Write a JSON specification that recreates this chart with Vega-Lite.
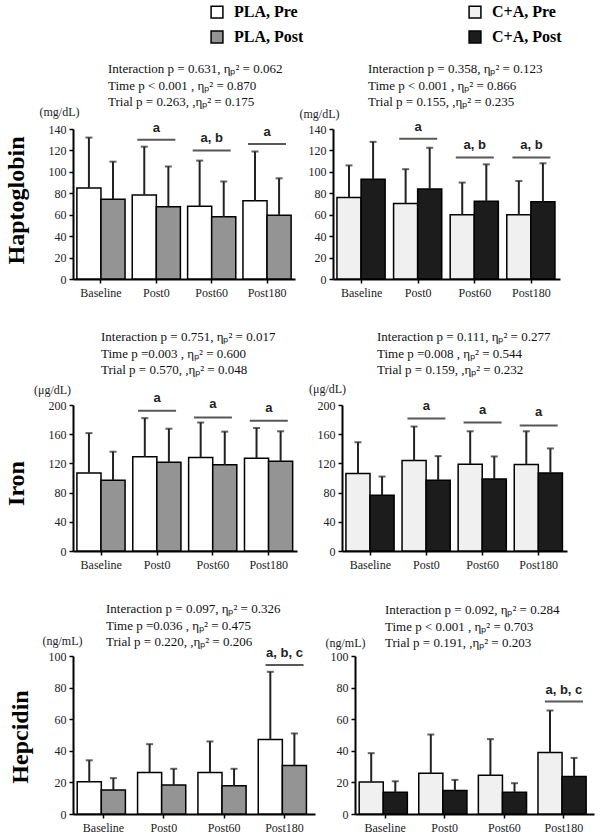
{
  "$schema": "https://vega.github.io/schema/vega-lite/v6.json",
  "padding": {"left": 5, "top": 4, "right": 5, "bottom": 5},
  "config": {
    "font": "Liberation Serif",
    "view": {"stroke": null},
    "axis": {"domainColor": "black", "domainWidth": 2, "tickColor": "black", "tickWidth": 1.5, "tickSize": 4, "labelFont": "Liberation Serif", "labelFontSize": 12, "labelColor": "#222", "grid": false, "titleFont": "Liberation Serif", "titleFontWeight": "normal", "titleFontSize": 12, "titleColor": "#222", "labelPadding": 3, "labelOverlap": false},
    "title": {"font": "Liberation Serif", "fontSize": 13, "fontWeight": "normal", "anchor": "start", "frame": "group", "lineHeight": 16.5, "color": "#111", "offset": 4}
  },
  "datasets": {
    "bars": [
      {"marker": "Haptoglobin", "trial": "PLA", "time": "Baseline", "phase": "Pre", "series": "PLA, Pre", "mean": 85, "upper": 132},
      {"marker": "Haptoglobin", "trial": "PLA", "time": "Baseline", "phase": "Post", "series": "PLA, Post", "mean": 74.5, "upper": 109.5},
      {"marker": "Haptoglobin", "trial": "PLA", "time": "Post0", "phase": "Pre", "series": "PLA, Pre", "mean": 78.5, "upper": 123.5},
      {"marker": "Haptoglobin", "trial": "PLA", "time": "Post0", "phase": "Post", "series": "PLA, Post", "mean": 67.5, "upper": 105},
      {"marker": "Haptoglobin", "trial": "PLA", "time": "Post60", "phase": "Pre", "series": "PLA, Pre", "mean": 68, "upper": 110.5},
      {"marker": "Haptoglobin", "trial": "PLA", "time": "Post60", "phase": "Post", "series": "PLA, Post", "mean": 58, "upper": 91},
      {"marker": "Haptoglobin", "trial": "PLA", "time": "Post180", "phase": "Pre", "series": "PLA, Pre", "mean": 73, "upper": 119},
      {"marker": "Haptoglobin", "trial": "PLA", "time": "Post180", "phase": "Post", "series": "PLA, Post", "mean": 59.5, "upper": 94},
      {"marker": "Haptoglobin", "trial": "C+A", "time": "Baseline", "phase": "Pre", "series": "C+A, Pre", "mean": 76, "upper": 106},
      {"marker": "Haptoglobin", "trial": "C+A", "time": "Baseline", "phase": "Post", "series": "C+A, Post", "mean": 93, "upper": 128},
      {"marker": "Haptoglobin", "trial": "C+A", "time": "Post0", "phase": "Pre", "series": "C+A, Pre", "mean": 70.5, "upper": 102.5},
      {"marker": "Haptoglobin", "trial": "C+A", "time": "Post0", "phase": "Post", "series": "C+A, Post", "mean": 84, "upper": 122.5},
      {"marker": "Haptoglobin", "trial": "C+A", "time": "Post60", "phase": "Pre", "series": "C+A, Pre", "mean": 60, "upper": 90},
      {"marker": "Haptoglobin", "trial": "C+A", "time": "Post60", "phase": "Post", "series": "C+A, Post", "mean": 72.5, "upper": 107},
      {"marker": "Haptoglobin", "trial": "C+A", "time": "Post180", "phase": "Pre", "series": "C+A, Pre", "mean": 60, "upper": 91.5},
      {"marker": "Haptoglobin", "trial": "C+A", "time": "Post180", "phase": "Post", "series": "C+A, Post", "mean": 72, "upper": 108},
      {"marker": "Iron", "trial": "PLA", "time": "Baseline", "phase": "Pre", "series": "PLA, Pre", "mean": 107, "upper": 161.5},
      {"marker": "Iron", "trial": "PLA", "time": "Baseline", "phase": "Post", "series": "PLA, Post", "mean": 97, "upper": 136},
      {"marker": "Iron", "trial": "PLA", "time": "Post0", "phase": "Pre", "series": "PLA, Pre", "mean": 129, "upper": 182},
      {"marker": "Iron", "trial": "PLA", "time": "Post0", "phase": "Post", "series": "PLA, Post", "mean": 121.5, "upper": 167.5},
      {"marker": "Iron", "trial": "PLA", "time": "Post60", "phase": "Pre", "series": "PLA, Pre", "mean": 128, "upper": 176},
      {"marker": "Iron", "trial": "PLA", "time": "Post60", "phase": "Post", "series": "PLA, Post", "mean": 118, "upper": 163.5},
      {"marker": "Iron", "trial": "PLA", "time": "Post180", "phase": "Pre", "series": "PLA, Pre", "mean": 127, "upper": 168.5},
      {"marker": "Iron", "trial": "PLA", "time": "Post180", "phase": "Post", "series": "PLA, Post", "mean": 123, "upper": 164},
      {"marker": "Iron", "trial": "C+A", "time": "Baseline", "phase": "Pre", "series": "C+A, Pre", "mean": 106, "upper": 149},
      {"marker": "Iron", "trial": "C+A", "time": "Baseline", "phase": "Post", "series": "C+A, Post", "mean": 76.5, "upper": 102},
      {"marker": "Iron", "trial": "C+A", "time": "Post0", "phase": "Pre", "series": "C+A, Pre", "mean": 124, "upper": 170.5},
      {"marker": "Iron", "trial": "C+A", "time": "Post0", "phase": "Post", "series": "C+A, Post", "mean": 97, "upper": 130},
      {"marker": "Iron", "trial": "C+A", "time": "Post60", "phase": "Pre", "series": "C+A, Pre", "mean": 119, "upper": 164},
      {"marker": "Iron", "trial": "C+A", "time": "Post60", "phase": "Post", "series": "C+A, Post", "mean": 98.5, "upper": 129.5},
      {"marker": "Iron", "trial": "C+A", "time": "Post180", "phase": "Pre", "series": "C+A, Pre", "mean": 118.5, "upper": 164},
      {"marker": "Iron", "trial": "C+A", "time": "Post180", "phase": "Post", "series": "C+A, Post", "mean": 107, "upper": 140.5},
      {"marker": "Hepcidin", "trial": "PLA", "time": "Baseline", "phase": "Pre", "series": "PLA, Pre", "mean": 20.4, "upper": 34},
      {"marker": "Hepcidin", "trial": "PLA", "time": "Baseline", "phase": "Post", "series": "PLA, Post", "mean": 15.2, "upper": 22.7},
      {"marker": "Hepcidin", "trial": "PLA", "time": "Post0", "phase": "Pre", "series": "PLA, Pre", "mean": 26.3, "upper": 44.2},
      {"marker": "Hepcidin", "trial": "PLA", "time": "Post0", "phase": "Post", "series": "PLA, Post", "mean": 18.3, "upper": 28.6},
      {"marker": "Hepcidin", "trial": "PLA", "time": "Post60", "phase": "Pre", "series": "PLA, Pre", "mean": 26.3, "upper": 45.9},
      {"marker": "Hepcidin", "trial": "PLA", "time": "Post60", "phase": "Post", "series": "PLA, Post", "mean": 17.9, "upper": 28.6},
      {"marker": "Hepcidin", "trial": "PLA", "time": "Post180", "phase": "Pre", "series": "PLA, Pre", "mean": 47.2, "upper": 90},
      {"marker": "Hepcidin", "trial": "PLA", "time": "Post180", "phase": "Post", "series": "PLA, Post", "mean": 30.7, "upper": 51},
      {"marker": "Hepcidin", "trial": "C+A", "time": "Baseline", "phase": "Pre", "series": "C+A, Pre", "mean": 20.3, "upper": 38.5},
      {"marker": "Hepcidin", "trial": "C+A", "time": "Baseline", "phase": "Post", "series": "C+A, Post", "mean": 13.7, "upper": 20.7},
      {"marker": "Hepcidin", "trial": "C+A", "time": "Post0", "phase": "Pre", "series": "C+A, Pre", "mean": 25.8, "upper": 50.3},
      {"marker": "Hepcidin", "trial": "C+A", "time": "Post0", "phase": "Post", "series": "C+A, Post", "mean": 14.8, "upper": 21.6},
      {"marker": "Hepcidin", "trial": "C+A", "time": "Post60", "phase": "Pre", "series": "C+A, Pre", "mean": 24.5, "upper": 47.4},
      {"marker": "Hepcidin", "trial": "C+A", "time": "Post60", "phase": "Post", "series": "C+A, Post", "mean": 13.7, "upper": 19.5},
      {"marker": "Hepcidin", "trial": "C+A", "time": "Post180", "phase": "Pre", "series": "C+A, Pre", "mean": 38.9, "upper": 65.5},
      {"marker": "Hepcidin", "trial": "C+A", "time": "Post180", "phase": "Post", "series": "C+A, Post", "mean": 23.7, "upper": 35.5}
    ],
    "sig": [
      {"marker": "Haptoglobin", "trial": "PLA", "time": "Post0", "line": 130, "label": "a"},
      {"marker": "Haptoglobin", "trial": "PLA", "time": "Post60", "line": 120, "label": "a, b"},
      {"marker": "Haptoglobin", "trial": "PLA", "time": "Post180", "line": 126, "label": "a"},
      {"marker": "Haptoglobin", "trial": "C+A", "time": "Post0", "line": 131, "label": "a"},
      {"marker": "Haptoglobin", "trial": "C+A", "time": "Post60", "line": 113.5, "label": "a, b"},
      {"marker": "Haptoglobin", "trial": "C+A", "time": "Post180", "line": 113.5, "label": "a, b"},
      {"marker": "Iron", "trial": "PLA", "time": "Post0", "line": 192, "label": "a"},
      {"marker": "Iron", "trial": "PLA", "time": "Post60", "line": 183, "label": "a"},
      {"marker": "Iron", "trial": "PLA", "time": "Post180", "line": 178.5, "label": "a"},
      {"marker": "Iron", "trial": "C+A", "time": "Post0", "line": 181.5, "label": "a"},
      {"marker": "Iron", "trial": "C+A", "time": "Post60", "line": 176, "label": "a"},
      {"marker": "Iron", "trial": "C+A", "time": "Post180", "line": 172, "label": "a"},
      {"marker": "Hepcidin", "trial": "PLA", "time": "Post180", "line": 94.3, "label": "a, b, c"},
      {"marker": "Hepcidin", "trial": "C+A", "time": "Post180", "line": 71.2, "label": "a, b, c"}
    ]
  },
  "spacing": 33,
  "vconcat": [
    {
      "title": {"text": "Haptoglobin", "orient": "left", "anchor": "middle", "frame": "bounds", "offset": 10, "dx": -20, "fontSize": 24, "fontWeight": "bold", "font": "Liberation Serif", "color": "black"},
      "bounds": "flush",
      "spacing": 38,
      "hconcat": [
        {
          "width": 222, "height": 150,
          "title": {"text": ["Interaction p = 0.631, ηₚ² = 0.062", "Time p < 0.001 , ηₚ² = 0.870", "Trial p = 0.263, ,ηₚ² = 0.175"], "dx": 35, "offset": -4},
          "encoding": {"x": {"field": "time", "type": "nominal", "sort": ["Baseline", "Post0", "Post60", "Post180"], "scale": {"paddingInner": 0.13, "paddingOuter": 0.07}, "axis": {"title": null, "labelAngle": 0, "bandPosition": 0.5, "labelPadding": 4}}},
          "layer": [
            {"data": {"name": "bars"}, "transform": [{"filter": "datum.marker === 'Haptoglobin' && datum.trial === 'PLA'"}],
             "mark": {"type": "bar", "stroke": "black", "strokeWidth": 1.5},
             "encoding": {
               "xOffset": {"field": "phase", "type": "nominal", "sort": ["Pre", "Post"], "scale": {"paddingInner": 0, "paddingOuter": 0}},
               "y": {"field": "mean", "type": "quantitative", "scale": {"domain": [0, 140], "nice": false}, "axis": {"values": [0, 20, 40, 60, 80, 100, 120, 140], "labelOverlap": false, "title": "(mg/dL)", "titleAngle": 0, "titleAlign": "center", "titleBaseline": "middle", "titleX": -14, "titleY": -18}},
               "fill": {"field": "series", "type": "nominal", "scale": {"domain": ["PLA, Pre", "PLA, Post", "C+A, Pre", "C+A, Post"], "range": ["#ffffff", "#949494", "#f0f0f0", "#1c1c1c"]},
                 "legend": {"orient": "none", "legendX": 136, "legendY": -125, "columns": 2, "columnPadding": 162, "rowPadding": 7, "symbolType": "square", "symbolSize": 140, "symbolStrokeColor": "black", "symbolStrokeWidth": 1.5, "labelFont": "Liberation Serif", "labelFontWeight": "bold", "labelFontSize": 16, "labelColor": "black", "labelOffset": 9, "title": null, "padding": 0}}
             }},
            {"data": {"name": "bars"}, "transform": [{"filter": "datum.marker === 'Haptoglobin' && datum.trial === 'PLA'"}],
             "mark": {"type": "rule", "strokeWidth": 2, "color": "#222"},
             "encoding": {"xOffset": {"field": "phase", "type": "nominal", "sort": ["Pre", "Post"]}, "y": {"field": "mean", "type": "quantitative", "axis": {"values": [0, 20, 40, 60, 80, 100, 120, 140], "labelOverlap": false, "title": "(mg/dL)", "titleAngle": 0, "titleAlign": "center", "titleBaseline": "middle", "titleX": -14, "titleY": -18}}, "y2": {"field": "upper"}}},
            {"data": {"name": "bars"}, "transform": [{"filter": "datum.marker === 'Haptoglobin' && datum.trial === 'PLA'"}],
             "mark": {"type": "tick", "size": 7, "thickness": 2, "color": "#222"},
             "encoding": {"xOffset": {"field": "phase", "type": "nominal", "sort": ["Pre", "Post"]}, "y": {"field": "upper", "type": "quantitative", "axis": {"values": [0, 20, 40, 60, 80, 100, 120, 140], "labelOverlap": false, "title": "(mg/dL)", "titleAngle": 0, "titleAlign": "center", "titleBaseline": "middle", "titleX": -14, "titleY": -18}}}},
            {"data": {"name": "sig"}, "transform": [{"filter": "datum.marker === 'Haptoglobin' && datum.trial === 'PLA'"}],
             "mark": {"type": "tick", "size": 38, "thickness": 2, "color": "#111"},
             "encoding": {"y": {"field": "line", "type": "quantitative", "axis": {"values": [0, 20, 40, 60, 80, 100, 120, 140], "labelOverlap": false, "title": "(mg/dL)", "titleAngle": 0, "titleAlign": "center", "titleBaseline": "middle", "titleX": -14, "titleY": -18}}}},
            {"data": {"name": "sig"}, "transform": [{"filter": "datum.marker === 'Haptoglobin' && datum.trial === 'PLA'"}],
             "mark": {"type": "text", "dy": -12, "font": "Liberation Sans", "fontWeight": "bold", "fontSize": 13, "color": "#222"},
             "encoding": {"y": {"field": "line", "type": "quantitative", "axis": {"values": [0, 20, 40, 60, 80, 100, 120, 140], "labelOverlap": false, "title": "(mg/dL)", "titleAngle": 0, "titleAlign": "center", "titleBaseline": "middle", "titleX": -14, "titleY": -18}}, "text": {"field": "label"}}}
          ]
        },
        {
          "width": 227, "height": 150,
          "title": {"text": ["Interaction p = 0.358, ηₚ² = 0.123", "Time p < 0.001 , ηₚ² = 0.866", "Trial p = 0.155, ,ηₚ² = 0.235"], "dx": 35, "offset": -2},
          "encoding": {"x": {"field": "time", "type": "nominal", "sort": ["Baseline", "Post0", "Post60", "Post180"], "scale": {"paddingInner": 0.13, "paddingOuter": 0.07}, "axis": {"title": null, "labelAngle": 0, "bandPosition": 0.5, "labelPadding": 4}}},
          "layer": [
            {"data": {"name": "bars"}, "transform": [{"filter": "datum.marker === 'Haptoglobin' && datum.trial === 'C+A'"}],
             "mark": {"type": "bar", "stroke": "black", "strokeWidth": 1.5},
             "encoding": {
               "xOffset": {"field": "phase", "type": "nominal", "sort": ["Pre", "Post"], "scale": {"paddingInner": 0, "paddingOuter": 0}},
               "y": {"field": "mean", "type": "quantitative", "scale": {"domain": [0, 140], "nice": false}, "axis": {"values": [0, 20, 40, 60, 80, 100, 120, 140], "labelOverlap": false, "title": "(mg/dL)", "titleAngle": 0, "titleAlign": "center", "titleBaseline": "middle", "titleX": -14, "titleY": -16}},
               "fill": {"field": "series", "type": "nominal", "scale": {"domain": ["PLA, Pre", "PLA, Post", "C+A, Pre", "C+A, Post"], "range": ["#ffffff", "#949494", "#f0f0f0", "#1c1c1c"]},
                 "legend": {"orient": "none", "legendX": 136, "legendY": -125, "columns": 2, "columnPadding": 162, "rowPadding": 7, "symbolType": "square", "symbolSize": 140, "symbolStrokeColor": "black", "symbolStrokeWidth": 1.5, "labelFont": "Liberation Serif", "labelFontWeight": "bold", "labelFontSize": 16, "labelColor": "black", "labelOffset": 9, "title": null, "padding": 0}}
             }},
            {"data": {"name": "bars"}, "transform": [{"filter": "datum.marker === 'Haptoglobin' && datum.trial === 'C+A'"}],
             "mark": {"type": "rule", "strokeWidth": 2, "color": "#222"},
             "encoding": {"xOffset": {"field": "phase", "type": "nominal", "sort": ["Pre", "Post"]}, "y": {"field": "mean", "type": "quantitative", "axis": {"values": [0, 20, 40, 60, 80, 100, 120, 140], "labelOverlap": false, "title": "(mg/dL)", "titleAngle": 0, "titleAlign": "center", "titleBaseline": "middle", "titleX": -14, "titleY": -16}}, "y2": {"field": "upper"}}},
            {"data": {"name": "bars"}, "transform": [{"filter": "datum.marker === 'Haptoglobin' && datum.trial === 'C+A'"}],
             "mark": {"type": "tick", "size": 7, "thickness": 2, "color": "#222"},
             "encoding": {"xOffset": {"field": "phase", "type": "nominal", "sort": ["Pre", "Post"]}, "y": {"field": "upper", "type": "quantitative", "axis": {"values": [0, 20, 40, 60, 80, 100, 120, 140], "labelOverlap": false, "title": "(mg/dL)", "titleAngle": 0, "titleAlign": "center", "titleBaseline": "middle", "titleX": -14, "titleY": -16}}}},
            {"data": {"name": "sig"}, "transform": [{"filter": "datum.marker === 'Haptoglobin' && datum.trial === 'C+A'"}],
             "mark": {"type": "tick", "size": 38, "thickness": 2, "color": "#111"},
             "encoding": {"y": {"field": "line", "type": "quantitative", "axis": {"values": [0, 20, 40, 60, 80, 100, 120, 140], "labelOverlap": false, "title": "(mg/dL)", "titleAngle": 0, "titleAlign": "center", "titleBaseline": "middle", "titleX": -14, "titleY": -16}}}},
            {"data": {"name": "sig"}, "transform": [{"filter": "datum.marker === 'Haptoglobin' && datum.trial === 'C+A'"}],
             "mark": {"type": "text", "dy": -12, "font": "Liberation Sans", "fontWeight": "bold", "fontSize": 13, "color": "#222"},
             "encoding": {"y": {"field": "line", "type": "quantitative", "axis": {"values": [0, 20, 40, 60, 80, 100, 120, 140], "labelOverlap": false, "title": "(mg/dL)", "titleAngle": 0, "titleAlign": "center", "titleBaseline": "middle", "titleX": -14, "titleY": -16}}, "text": {"field": "label"}}}
          ]
        }
      ]
    },
    {
      "title": {"text": "Iron", "orient": "left", "anchor": "middle", "frame": "bounds", "offset": 4, "dx": -33, "fontSize": 24, "fontWeight": "bold", "font": "Liberation Serif", "color": "black"},
      "bounds": "flush",
      "spacing": 45,
      "hconcat": [
        {
          "width": 224, "height": 146,
          "title": {"text": ["Interaction p = 0.751, ηₚ² = 0.017", "Time p =0.003 , ηₚ² = 0.600", "Trial p = 0.570, ,ηₚ² = 0.048"], "dx": 28, "offset": 6},
          "encoding": {"x": {"field": "time", "type": "nominal", "sort": ["Baseline", "Post0", "Post60", "Post180"], "scale": {"paddingInner": 0.13, "paddingOuter": 0.07}, "axis": {"title": null, "labelAngle": 0, "bandPosition": 0.5, "labelPadding": 4}}},
          "layer": [
            {"data": {"name": "bars"}, "transform": [{"filter": "datum.marker === 'Iron' && datum.trial === 'PLA'"}],
             "mark": {"type": "bar", "stroke": "black", "strokeWidth": 1.5},
             "encoding": {
               "xOffset": {"field": "phase", "type": "nominal", "sort": ["Pre", "Post"], "scale": {"paddingInner": 0, "paddingOuter": 0}},
               "y": {"field": "mean", "type": "quantitative", "scale": {"domain": [0, 200], "nice": false}, "axis": {"values": [0, 40, 80, 120, 160, 200], "labelOverlap": false, "title": "(μg/dL)", "titleAngle": 0, "titleAlign": "center", "titleBaseline": "middle", "titleX": -21, "titleY": -16}},
               "fill": {"field": "series", "type": "nominal", "scale": {"domain": ["PLA, Pre", "PLA, Post", "C+A, Pre", "C+A, Post"], "range": ["#ffffff", "#949494", "#f0f0f0", "#1c1c1c"]},
                 "legend": {"orient": "none", "legendX": 136, "legendY": -125, "columns": 2, "columnPadding": 162, "rowPadding": 7, "symbolType": "square", "symbolSize": 140, "symbolStrokeColor": "black", "symbolStrokeWidth": 1.5, "labelFont": "Liberation Serif", "labelFontWeight": "bold", "labelFontSize": 16, "labelColor": "black", "labelOffset": 9, "title": null, "padding": 0}}
             }},
            {"data": {"name": "bars"}, "transform": [{"filter": "datum.marker === 'Iron' && datum.trial === 'PLA'"}],
             "mark": {"type": "rule", "strokeWidth": 2, "color": "#222"},
             "encoding": {"xOffset": {"field": "phase", "type": "nominal", "sort": ["Pre", "Post"]}, "y": {"field": "mean", "type": "quantitative", "axis": {"values": [0, 40, 80, 120, 160, 200], "labelOverlap": false, "title": "(μg/dL)", "titleAngle": 0, "titleAlign": "center", "titleBaseline": "middle", "titleX": -21, "titleY": -16}}, "y2": {"field": "upper"}}},
            {"data": {"name": "bars"}, "transform": [{"filter": "datum.marker === 'Iron' && datum.trial === 'PLA'"}],
             "mark": {"type": "tick", "size": 7, "thickness": 2, "color": "#222"},
             "encoding": {"xOffset": {"field": "phase", "type": "nominal", "sort": ["Pre", "Post"]}, "y": {"field": "upper", "type": "quantitative", "axis": {"values": [0, 40, 80, 120, 160, 200], "labelOverlap": false, "title": "(μg/dL)", "titleAngle": 0, "titleAlign": "center", "titleBaseline": "middle", "titleX": -21, "titleY": -16}}}},
            {"data": {"name": "sig"}, "transform": [{"filter": "datum.marker === 'Iron' && datum.trial === 'PLA'"}],
             "mark": {"type": "tick", "size": 38, "thickness": 2, "color": "#111"},
             "encoding": {"y": {"field": "line", "type": "quantitative", "axis": {"values": [0, 40, 80, 120, 160, 200], "labelOverlap": false, "title": "(μg/dL)", "titleAngle": 0, "titleAlign": "center", "titleBaseline": "middle", "titleX": -21, "titleY": -16}}}},
            {"data": {"name": "sig"}, "transform": [{"filter": "datum.marker === 'Iron' && datum.trial === 'PLA'"}],
             "mark": {"type": "text", "dy": -13, "font": "Liberation Sans", "fontWeight": "bold", "fontSize": 13, "color": "#222"},
             "encoding": {"y": {"field": "line", "type": "quantitative", "axis": {"values": [0, 40, 80, 120, 160, 200], "labelOverlap": false, "title": "(μg/dL)", "titleAngle": 0, "titleAlign": "center", "titleBaseline": "middle", "titleX": -21, "titleY": -16}}, "text": {"field": "label"}}}
          ]
        },
        {
          "width": 225, "height": 146,
          "title": {"text": ["Interaction p = 0.111, ηₚ² = 0.277", "Time p =0.008 , ηₚ² = 0.544", "Trial p = 0.159, ,ηₚ² = 0.232"], "dx": 35, "offset": 5},
          "encoding": {"x": {"field": "time", "type": "nominal", "sort": ["Baseline", "Post0", "Post60", "Post180"], "scale": {"paddingInner": 0.13, "paddingOuter": 0.07}, "axis": {"title": null, "labelAngle": 0, "bandPosition": 0.5, "labelPadding": 4}}},
          "layer": [
            {"data": {"name": "bars"}, "transform": [{"filter": "datum.marker === 'Iron' && datum.trial === 'C+A'"}],
             "mark": {"type": "bar", "stroke": "black", "strokeWidth": 1.5},
             "encoding": {
               "xOffset": {"field": "phase", "type": "nominal", "sort": ["Pre", "Post"], "scale": {"paddingInner": 0, "paddingOuter": 0}},
               "y": {"field": "mean", "type": "quantitative", "scale": {"domain": [0, 200], "nice": false}, "axis": {"values": [0, 40, 80, 120, 160, 200], "labelOverlap": false, "title": "(μg/dL)", "titleAngle": 0, "titleAlign": "center", "titleBaseline": "middle", "titleX": -15, "titleY": -17}},
               "fill": {"field": "series", "type": "nominal", "scale": {"domain": ["PLA, Pre", "PLA, Post", "C+A, Pre", "C+A, Post"], "range": ["#ffffff", "#949494", "#f0f0f0", "#1c1c1c"]},
                 "legend": {"orient": "none", "legendX": 136, "legendY": -125, "columns": 2, "columnPadding": 162, "rowPadding": 7, "symbolType": "square", "symbolSize": 140, "symbolStrokeColor": "black", "symbolStrokeWidth": 1.5, "labelFont": "Liberation Serif", "labelFontWeight": "bold", "labelFontSize": 16, "labelColor": "black", "labelOffset": 9, "title": null, "padding": 0}}
             }},
            {"data": {"name": "bars"}, "transform": [{"filter": "datum.marker === 'Iron' && datum.trial === 'C+A'"}],
             "mark": {"type": "rule", "strokeWidth": 2, "color": "#222"},
             "encoding": {"xOffset": {"field": "phase", "type": "nominal", "sort": ["Pre", "Post"]}, "y": {"field": "mean", "type": "quantitative", "axis": {"values": [0, 40, 80, 120, 160, 200], "labelOverlap": false, "title": "(μg/dL)", "titleAngle": 0, "titleAlign": "center", "titleBaseline": "middle", "titleX": -15, "titleY": -17}}, "y2": {"field": "upper"}}},
            {"data": {"name": "bars"}, "transform": [{"filter": "datum.marker === 'Iron' && datum.trial === 'C+A'"}],
             "mark": {"type": "tick", "size": 7, "thickness": 2, "color": "#222"},
             "encoding": {"xOffset": {"field": "phase", "type": "nominal", "sort": ["Pre", "Post"]}, "y": {"field": "upper", "type": "quantitative", "axis": {"values": [0, 40, 80, 120, 160, 200], "labelOverlap": false, "title": "(μg/dL)", "titleAngle": 0, "titleAlign": "center", "titleBaseline": "middle", "titleX": -15, "titleY": -17}}}},
            {"data": {"name": "sig"}, "transform": [{"filter": "datum.marker === 'Iron' && datum.trial === 'C+A'"}],
             "mark": {"type": "tick", "size": 38, "thickness": 2, "color": "#111"},
             "encoding": {"y": {"field": "line", "type": "quantitative", "axis": {"values": [0, 40, 80, 120, 160, 200], "labelOverlap": false, "title": "(μg/dL)", "titleAngle": 0, "titleAlign": "center", "titleBaseline": "middle", "titleX": -15, "titleY": -17}}}},
            {"data": {"name": "sig"}, "transform": [{"filter": "datum.marker === 'Iron' && datum.trial === 'C+A'"}],
             "mark": {"type": "text", "dy": -13, "font": "Liberation Sans", "fontWeight": "bold", "fontSize": 13, "color": "#222"},
             "encoding": {"y": {"field": "line", "type": "quantitative", "axis": {"values": [0, 40, 80, 120, 160, 200], "labelOverlap": false, "title": "(μg/dL)", "titleAngle": 0, "titleAlign": "center", "titleBaseline": "middle", "titleX": -15, "titleY": -17}}, "text": {"field": "label"}}}
          ]
        }
      ]
    },
    {
      "title": {"text": "Hepcidin", "orient": "left", "anchor": "middle", "frame": "bounds", "offset": 9, "dx": -19, "fontSize": 24, "fontWeight": "bold", "font": "Liberation Serif", "color": "black"},
      "bounds": "flush",
      "spacing": 40,
      "hconcat": [
        {
          "width": 242, "height": 158,
          "title": {"text": ["Interaction p = 0.097, ηₚ² = 0.326", "Time p =0.036 , ηₚ² = 0.475", "Trial p = 0.220, ,ηₚ² = 0.206"], "dx": 33, "offset": -15},
          "encoding": {"x": {"field": "time", "type": "nominal", "sort": ["Baseline", "Post0", "Post60", "Post180"], "scale": {"paddingInner": 0.13, "paddingOuter": 0.07}, "axis": {"title": null, "labelAngle": 0, "bandPosition": 0.5, "labelPadding": 4}}},
          "layer": [
            {"data": {"name": "bars"}, "transform": [{"filter": "datum.marker === 'Hepcidin' && datum.trial === 'PLA'"}],
             "mark": {"type": "bar", "stroke": "black", "strokeWidth": 1.5},
             "encoding": {
               "xOffset": {"field": "phase", "type": "nominal", "sort": ["Pre", "Post"], "scale": {"paddingInner": 0, "paddingOuter": 0}},
               "y": {"field": "mean", "type": "quantitative", "scale": {"domain": [0, 100], "nice": false}, "axis": {"values": [0, 20, 40, 60, 80, 100], "labelOverlap": false, "title": "(ng/mL)", "titleAngle": 0, "titleAlign": "center", "titleBaseline": "middle", "titleX": -11, "titleY": -16}},
               "fill": {"field": "series", "type": "nominal", "scale": {"domain": ["PLA, Pre", "PLA, Post", "C+A, Pre", "C+A, Post"], "range": ["#ffffff", "#949494", "#f0f0f0", "#1c1c1c"]},
                 "legend": {"orient": "none", "legendX": 136, "legendY": -125, "columns": 2, "columnPadding": 162, "rowPadding": 7, "symbolType": "square", "symbolSize": 140, "symbolStrokeColor": "black", "symbolStrokeWidth": 1.5, "labelFont": "Liberation Serif", "labelFontWeight": "bold", "labelFontSize": 16, "labelColor": "black", "labelOffset": 9, "title": null, "padding": 0}}
             }},
            {"data": {"name": "bars"}, "transform": [{"filter": "datum.marker === 'Hepcidin' && datum.trial === 'PLA'"}],
             "mark": {"type": "rule", "strokeWidth": 2, "color": "#222"},
             "encoding": {"xOffset": {"field": "phase", "type": "nominal", "sort": ["Pre", "Post"]}, "y": {"field": "mean", "type": "quantitative", "axis": {"values": [0, 20, 40, 60, 80, 100], "labelOverlap": false, "title": "(ng/mL)", "titleAngle": 0, "titleAlign": "center", "titleBaseline": "middle", "titleX": -11, "titleY": -16}}, "y2": {"field": "upper"}}},
            {"data": {"name": "bars"}, "transform": [{"filter": "datum.marker === 'Hepcidin' && datum.trial === 'PLA'"}],
             "mark": {"type": "tick", "size": 7, "thickness": 2, "color": "#222"},
             "encoding": {"xOffset": {"field": "phase", "type": "nominal", "sort": ["Pre", "Post"]}, "y": {"field": "upper", "type": "quantitative", "axis": {"values": [0, 20, 40, 60, 80, 100], "labelOverlap": false, "title": "(ng/mL)", "titleAngle": 0, "titleAlign": "center", "titleBaseline": "middle", "titleX": -11, "titleY": -16}}}},
            {"data": {"name": "sig"}, "transform": [{"filter": "datum.marker === 'Hepcidin' && datum.trial === 'PLA'"}],
             "mark": {"type": "tick", "size": 38, "thickness": 2, "color": "#111"},
             "encoding": {"y": {"field": "line", "type": "quantitative", "axis": {"values": [0, 20, 40, 60, 80, 100], "labelOverlap": false, "title": "(ng/mL)", "titleAngle": 0, "titleAlign": "center", "titleBaseline": "middle", "titleX": -11, "titleY": -16}}}},
            {"data": {"name": "sig"}, "transform": [{"filter": "datum.marker === 'Hepcidin' && datum.trial === 'PLA'"}],
             "mark": {"type": "text", "dy": -12, "font": "Liberation Sans", "fontWeight": "bold", "fontSize": 13, "color": "#222"},
             "encoding": {"y": {"field": "line", "type": "quantitative", "axis": {"values": [0, 20, 40, 60, 80, 100], "labelOverlap": false, "title": "(ng/mL)", "titleAngle": 0, "titleAlign": "center", "titleBaseline": "middle", "titleX": -11, "titleY": -16}}, "text": {"field": "label"}}}
          ]
        },
        {
          "width": 239, "height": 158,
          "title": {"text": ["Interaction p = 0.092, ηₚ² = 0.284", "Time p < 0.001 , ηₚ² = 0.703", "Trial p = 0.191, ,ηₚ² = 0.203"], "dx": 30, "offset": -14},
          "encoding": {"x": {"field": "time", "type": "nominal", "sort": ["Baseline", "Post0", "Post60", "Post180"], "scale": {"paddingInner": 0.13, "paddingOuter": 0.07}, "axis": {"title": null, "labelAngle": 0, "bandPosition": 0.5, "labelPadding": 4}}},
          "layer": [
            {"data": {"name": "bars"}, "transform": [{"filter": "datum.marker === 'Hepcidin' && datum.trial === 'C+A'"}],
             "mark": {"type": "bar", "stroke": "black", "strokeWidth": 1.5},
             "encoding": {
               "xOffset": {"field": "phase", "type": "nominal", "sort": ["Pre", "Post"], "scale": {"paddingInner": 0, "paddingOuter": 0}},
               "y": {"field": "mean", "type": "quantitative", "scale": {"domain": [0, 100], "nice": false}, "axis": {"values": [0, 20, 40, 60, 80, 100], "labelOverlap": false, "title": "(ng/mL)", "titleAngle": 0, "titleAlign": "center", "titleBaseline": "middle", "titleX": -10, "titleY": -14}},
               "fill": {"field": "series", "type": "nominal", "scale": {"domain": ["PLA, Pre", "PLA, Post", "C+A, Pre", "C+A, Post"], "range": ["#ffffff", "#949494", "#f0f0f0", "#1c1c1c"]},
                 "legend": {"orient": "none", "legendX": 136, "legendY": -125, "columns": 2, "columnPadding": 162, "rowPadding": 7, "symbolType": "square", "symbolSize": 140, "symbolStrokeColor": "black", "symbolStrokeWidth": 1.5, "labelFont": "Liberation Serif", "labelFontWeight": "bold", "labelFontSize": 16, "labelColor": "black", "labelOffset": 9, "title": null, "padding": 0}}
             }},
            {"data": {"name": "bars"}, "transform": [{"filter": "datum.marker === 'Hepcidin' && datum.trial === 'C+A'"}],
             "mark": {"type": "rule", "strokeWidth": 2, "color": "#222"},
             "encoding": {"xOffset": {"field": "phase", "type": "nominal", "sort": ["Pre", "Post"]}, "y": {"field": "mean", "type": "quantitative", "axis": {"values": [0, 20, 40, 60, 80, 100], "labelOverlap": false, "title": "(ng/mL)", "titleAngle": 0, "titleAlign": "center", "titleBaseline": "middle", "titleX": -10, "titleY": -14}}, "y2": {"field": "upper"}}},
            {"data": {"name": "bars"}, "transform": [{"filter": "datum.marker === 'Hepcidin' && datum.trial === 'C+A'"}],
             "mark": {"type": "tick", "size": 7, "thickness": 2, "color": "#222"},
             "encoding": {"xOffset": {"field": "phase", "type": "nominal", "sort": ["Pre", "Post"]}, "y": {"field": "upper", "type": "quantitative", "axis": {"values": [0, 20, 40, 60, 80, 100], "labelOverlap": false, "title": "(ng/mL)", "titleAngle": 0, "titleAlign": "center", "titleBaseline": "middle", "titleX": -10, "titleY": -14}}}},
            {"data": {"name": "sig"}, "transform": [{"filter": "datum.marker === 'Hepcidin' && datum.trial === 'C+A'"}],
             "mark": {"type": "tick", "size": 38, "thickness": 2, "color": "#111"},
             "encoding": {"y": {"field": "line", "type": "quantitative", "axis": {"values": [0, 20, 40, 60, 80, 100], "labelOverlap": false, "title": "(ng/mL)", "titleAngle": 0, "titleAlign": "center", "titleBaseline": "middle", "titleX": -10, "titleY": -14}}}},
            {"data": {"name": "sig"}, "transform": [{"filter": "datum.marker === 'Hepcidin' && datum.trial === 'C+A'"}],
             "mark": {"type": "text", "dy": -12, "font": "Liberation Sans", "fontWeight": "bold", "fontSize": 13, "color": "#222"},
             "encoding": {"y": {"field": "line", "type": "quantitative", "axis": {"values": [0, 20, 40, 60, 80, 100], "labelOverlap": false, "title": "(ng/mL)", "titleAngle": 0, "titleAlign": "center", "titleBaseline": "middle", "titleX": -10, "titleY": -14}}, "text": {"field": "label"}}}
          ]
        }
      ]
    }
  ]
}
